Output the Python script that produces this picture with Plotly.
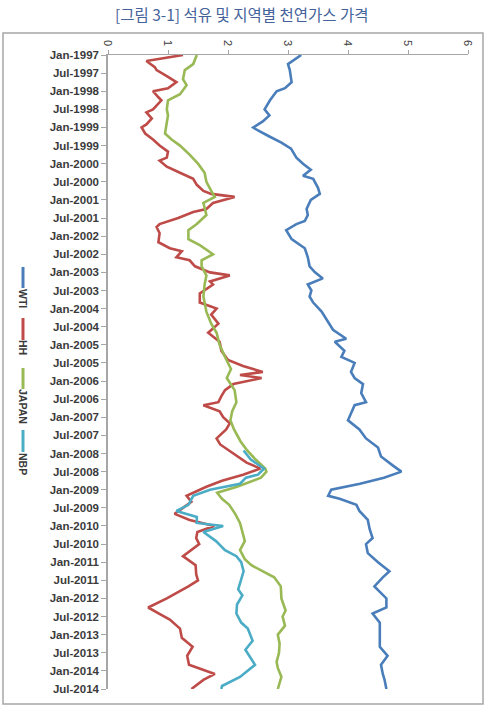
import plotly.graph_objects as go

# ---------------- data (log prices) ----------------
wti_months = ["1997-01","1997-04","1997-06","1997-10","1997-12","1998-01","1998-04","1998-07","1998-09","1998-11",
              "1999-01","1999-02","1999-04","1999-06","1999-08","1999-11","2000-01","2000-03","2000-05","2000-06",
              "2000-09","2000-11","2001-01","2001-04","2001-06","2001-08","2001-09","2001-11","2002-02","2002-05",
              "2002-08","2002-11","2003-01","2003-03","2003-05","2003-07","2003-09","2003-11","2004-02","2004-06",
              "2004-08","2004-11","2004-12","2005-03","2005-05","2005-07","2005-10","2005-12","2006-02","2006-05",
              "2006-08","2006-09","2007-02","2007-05","2007-08","2007-11","2008-02","2008-05","2008-07","2008-09",
              "2008-11","2009-01","2009-03","2009-04","2009-06","2009-08","2009-11","2010-02","2010-05","2010-07",
              "2010-10","2011-01","2011-04","2011-06","2011-09","2012-01","2012-04","2012-06","2012-09","2013-01",
              "2013-05","2013-08","2013-11","2014-02","2014-04","2014-07"]
wti_values = [3.22,3.00,3.03,3.06,2.95,2.81,2.70,2.61,2.69,2.58,
              2.42,2.50,2.69,2.89,3.05,3.14,3.25,3.38,3.25,3.42,
              3.50,3.53,3.38,3.31,3.33,3.28,3.14,2.97,3.06,3.28,
              3.33,3.36,3.45,3.58,3.33,3.39,3.36,3.42,3.56,3.69,
              3.75,3.97,3.78,3.94,3.89,4.11,4.05,4.11,4.25,4.22,
              4.30,4.11,4.00,4.19,4.30,4.50,4.55,4.75,4.89,4.60,
              4.20,3.72,3.67,3.86,4.14,4.19,4.33,4.36,4.41,4.30,
              4.33,4.50,4.69,4.58,4.44,4.64,4.64,4.41,4.53,4.53,
              4.53,4.66,4.55,4.58,4.61,4.64]

hh_months = ["1997-01","1997-03","1997-05","1997-06","1997-08","1997-10","1997-12","1998-01","1998-03","1998-04",
             "1998-07","1998-08","1998-10","1998-12","1999-01","1999-03","1999-05","1999-07","1999-09","1999-11",
             "1999-12","2000-02","2000-04","2000-06","2000-08","2000-10","2000-11","2000-12","2001-02","2001-04",
             "2001-05","2001-07","2001-09","2001-10","2001-12","2002-03","2002-05","2002-06","2002-08","2002-09",
             "2002-11","2003-01","2003-02","2003-04","2003-05","2003-08","2003-11","2004-01","2004-03","2004-06",
             "2004-09","2004-12","2005-03","2005-06","2005-08","2005-10","2005-11","2005-12","2006-02","2006-04",
             "2006-06","2006-08","2006-09","2006-11","2007-01","2007-03","2007-05","2007-08","2007-10","2008-01",
             "2008-04","2008-06","2008-08","2008-10","2008-12","2009-03","2009-05","2009-08","2009-09","2009-11",
             "2010-01","2010-03","2010-05","2010-07","2010-11","2011-02","2011-05","2011-07","2011-09","2012-01",
             "2012-04","2012-06","2012-08","2012-11","2013-02","2013-05","2013-08","2013-11","2014-01","2014-02",
             "2014-04","2014-07"]
hh_values = [1.25,0.64,0.78,0.81,0.98,1.14,1.00,0.75,0.84,0.89,
             0.75,0.64,0.73,0.64,0.56,0.62,0.75,0.86,1.00,0.98,
             0.86,0.98,1.20,1.42,1.48,1.59,1.72,2.11,1.75,1.64,
             1.42,1.17,0.86,0.81,0.86,0.84,1.03,1.23,1.14,1.36,
             1.45,1.70,2.03,1.70,1.75,1.53,1.53,1.81,1.72,1.84,
             1.67,1.86,1.89,2.00,2.25,2.58,2.20,2.56,2.09,1.95,
             1.89,1.84,1.59,1.86,1.92,2.03,1.97,1.81,1.87,2.09,
             2.31,2.54,2.25,1.90,1.64,1.31,1.39,1.18,1.11,1.36,
             1.77,1.49,1.47,1.52,1.25,1.46,1.47,1.50,1.34,0.98,
             0.67,0.85,1.03,1.20,1.23,1.41,1.32,1.35,1.64,1.78,
             1.59,1.39]

japan_months = ["1997-01","1997-04","1997-06","1997-09","1997-11","1998-02","1998-04","1998-07","1998-09","1998-12",
                "1999-03","1999-05","1999-07","1999-10","2000-01","2000-04","2000-07","2000-10","2000-12","2001-02",
                "2001-04","2001-06","2001-09","2001-11","2002-02","2002-04","2002-07","2002-09","2002-11","2003-02",
                "2003-05","2003-09","2004-02","2004-06","2004-09","2005-01","2005-05","2005-09","2005-12","2006-04",
                "2006-08","2006-11","2007-02","2007-05","2007-09","2007-12","2008-03","2008-06","2008-07","2008-09",
                "2008-12","2009-02","2009-04","2009-06","2009-09","2009-12","2010-03","2010-06","2010-09","2010-12",
                "2011-02","2011-04","2011-06","2011-09","2012-01","2012-05","2012-07","2012-10","2013-01","2013-04",
                "2013-07","2013-10","2013-12","2014-03","2014-07"]
japan_values = [1.48,1.42,1.28,1.25,1.31,1.20,1.00,0.98,1.00,0.98,
                0.95,1.06,1.20,1.36,1.50,1.61,1.64,1.72,1.78,1.59,
                1.61,1.64,1.48,1.34,1.34,1.53,1.75,1.56,1.56,1.64,
                1.61,1.59,1.64,1.72,1.81,1.86,1.95,2.05,1.98,2.11,
                2.14,2.07,2.04,2.10,2.21,2.32,2.46,2.62,2.64,2.55,
                2.15,1.82,1.90,2.02,2.12,2.20,2.24,2.28,2.20,2.28,
                2.39,2.58,2.77,2.88,2.89,2.96,2.91,2.95,2.83,2.86,
                2.85,2.81,2.83,2.89,2.83]

nbp_months = ["2007-12","2008-03","2008-06","2008-08","2008-09","2008-11","2009-01","2009-03","2009-06","2009-08",
              "2009-10","2009-12","2010-01","2010-03","2010-06","2010-09","2010-11","2011-01","2011-04","2011-07",
              "2011-10","2011-12","2012-03","2012-06","2012-09","2012-11","2013-03","2013-06","2013-08","2013-11",
              "2014-03","2014-06","2014-07"]
nbp_values = [2.26,2.38,2.60,2.50,2.30,2.20,1.70,1.42,1.34,1.14,
              1.48,1.48,1.92,1.59,1.80,1.95,2.14,2.22,2.26,2.22,
              2.17,2.24,2.15,2.14,2.22,2.33,2.41,2.29,2.35,2.45,
              2.20,1.90,1.89]

series_names = ["WTI", "HH", "JAPAN", "NBP"]
tick_labels = [f"{mon}-{yr}" for yr in range(1997, 2015) for mon in ("Jan", "Jul")]

# ---------------- helpers ----------------
def month_index(s):
    y, m = s.split("-")
    return (int(y) - 1997) * 12 + int(m) - 1

colors = {"WTI": "#4a7ebb", "HH": "#be4b48", "JAPAN": "#98b954", "NBP": "#4bacc6"}
data = {"WTI": (wti_months, wti_values), "HH": (hh_months, hh_values),
        "JAPAN": (japan_months, japan_values), "NBP": (nbp_months, nbp_values)}

W, H = 486, 707
L, R, T, B = 108, 18, 55, 18
pw, ph = W - L - R, H - T - B

def px_x(px):
    return (px - L) / pw

def px_y(py):
    return (H - B - py) / ph

fig = go.Figure()
for name in series_names:
    months, vals = data[name]
    fig.add_trace(go.Scatter(
        x=vals, y=[month_index(m) for m in months], mode="lines", name=name,
        line=dict(color=colors[name], width=2.6), showlegend=False))

tickvals = [i * 6 for i in range(len(tick_labels))]

fig.update_xaxes(range=[0, 6], side="top", dtick=1, tickangle=90, showgrid=False, zeroline=False,
                 showline=True, linecolor="#a6a6a6", linewidth=1, ticks="outside", ticklen=4,
                 tickcolor="#a6a6a6", tickfont=dict(family="Liberation Sans", size=11, color="#404040"))
fig.update_yaxes(range=[210, 0], tickvals=tickvals, ticktext=tick_labels, showgrid=False, zeroline=False,
                 showline=True, linecolor="#a6a6a6", linewidth=1.5, ticks="outside", ticklen=5,
                 tickcolor="#a6a6a6",
                 tickfont=dict(family="Liberation Sans", size=11.5, color="#3b3b3b", weight="bold"))

shapes = []
annotations = []
# outer border
shapes.append(dict(type="rect", xref="paper", yref="paper", x0=px_x(3), x1=px_x(483), y0=px_y(704),
                   y1=px_y(33), line=dict(color="#a6a6a6", width=1.5), fillcolor="rgba(0,0,0,0)", layer="below"))
# legend (rotated)
legend_pos = {"WTI": (267, 288, 298), "HH": (318, 340, 347), "JAPAN": (368, 389, 406), "NBP": (430, 452, 464)}
for name in series_names:
    y0, y1, ty = legend_pos[name]
    shapes.append(dict(type="line", xref="paper", yref="paper", x0=px_x(23), x1=px_x(23),
                       y0=px_y(y0), y1=px_y(y1), line=dict(color=colors[name], width=3)))
    annotations.append(dict(text=name, xref="paper", yref="paper", x=px_x(23), y=px_y(ty),
                            showarrow=False, textangle=90, xanchor="center", yanchor="middle",
                            font=dict(family="Liberation Sans", size=10.5, color="#3b3b3b", weight="bold")))
# title
annotations.append(dict(text="[그림 3-1] 석유 및 지역별 천연가스 가격", xref="paper", yref="paper",
                        x=px_x(242), y=px_y(14), showarrow=False, xanchor="center", yanchor="middle",
                        font=dict(family="Noto Sans CJK KR", size=15.5, color="#44639a", weight=400)))

fig.update_layout(width=W, height=H, margin=dict(l=L, r=R, t=T, b=B), paper_bgcolor="white",
                  plot_bgcolor="white", shapes=shapes, annotations=annotations, showlegend=False)

fig.write_html("out.html")
